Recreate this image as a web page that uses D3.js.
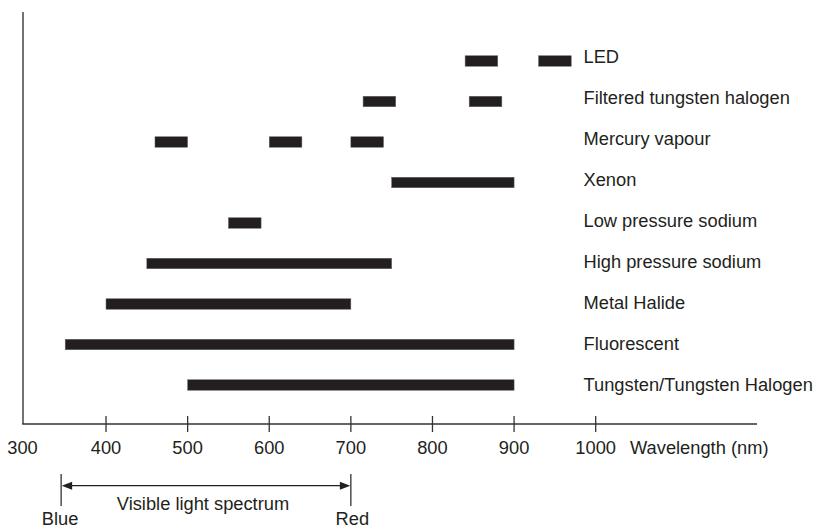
<!DOCTYPE html>
<html>
<head>
<meta charset="utf-8">
<script src="https://cdn.jsdelivr.net/npm/d3@7"></script>
<style>
  html, body { margin: 0; padding: 0; background: #fff; }
  svg { display: block; font-family: "Liberation Sans", Arial, Helvetica, sans-serif; }
  text { fill: #231f20; }
</style>
</head>
<body>
<svg id="chart" width="819" height="529"></svg>
<script>
// ---- data ----
const categories = [
  "LED",
  "Filtered tungsten halogen",
  "Mercury vapour",
  "Xenon",
  "Low pressure sodium",
  "High pressure sodium",
  "Metal Halide",
  "Fluorescent",
  "Tungsten/Tungsten Halogen"
];
const rangeStart = [
  [840, 930],
  [715, 845],
  [460, 600, 700],
  [750],
  [550],
  [450],
  [400],
  [350],
  [500]
];
const rangeEnd = [
  [880, 970],
  [755, 885],
  [500, 640, 740],
  [900],
  [590],
  [750],
  [700],
  [900],
  [900]
];
const tickValues = [400, 500, 600, 700, 800, 900, 1000];
const tickLabels = ["300", "400", "500", "600", "700", "800", "900", "1000"];
const axisTitle = "Wavelength (nm)";
const visibleBounds = [345, 700];
const visibleLabels = ["Blue", "Red"];
const visibleTitle = "Visible light spectrum";

// ---- drawing ----
const svg = d3.select("#chart");
const ink = "#231f20";
const fs = 18.3;

const x = d3.scaleLinear().domain([300, 1000]).range([24.4, 595.7]);
const y = d3.scalePoint().domain(categories).range([61, 385]);
const yLab = d3.scalePoint().domain(categories).range([63.3, 390.5]);
const axisY = 424, axisX = 23;
const barH = 10.5;

// axes lines
svg.append("line").attr("x1", axisX).attr("x2", axisX).attr("y1", 12).attr("y2", axisY)
  .attr("stroke", "#444").attr("stroke-width", 1.5);
svg.append("line").attr("x1", axisX - 0.75).attr("x2", 757).attr("y1", axisY).attr("y2", axisY)
  .attr("stroke", "#333").attr("stroke-width", 1.3);

// ticks
svg.selectAll("line.tick").data(tickValues).join("line")
  .attr("class", "tick")
  .attr("x1", d => x(d)).attr("x2", d => x(d))
  .attr("y1", axisY - 8).attr("y2", axisY + 8)
  .attr("stroke", "#333").attr("stroke-width", 1.3);

// tick labels
const labelVals = [300].concat(tickValues);
svg.selectAll("text.tl").data(labelVals).join("text")
  .attr("class", "tl")
  .attr("x", (d, i) => d === 300 ? axisX - 0.5 : x(d))
  .attr("y", 453.8)
  .attr("text-anchor", "middle")
  .attr("font-size", fs)
  .text((d, i) => tickLabels[i]);

svg.append("text").attr("x", 630).attr("y", 453.8).attr("font-size", fs).text(axisTitle);

// bars
const segs = [];
categories.forEach((c, i) => {
  rangeStart[i].forEach((s, j) => segs.push({ c, s, e: rangeEnd[i][j] }));
});
svg.selectAll("rect.bar").data(segs).join("rect")
  .attr("class", "bar")
  .attr("x", d => x(d.s))
  .attr("width", d => x(d.e) - x(d.s))
  .attr("y", d => y(d.c) - barH / 2)
  .attr("height", barH)
  .attr("fill", ink)
  .attr("stroke", "#666").attr("stroke-width", 0.5);

// category labels
svg.selectAll("text.cat").data(categories).join("text")
  .attr("class", "cat")
  .attr("x", 583.5)
  .attr("y", d => yLab(d))
  .attr("font-size", fs)
  .text(d => d);

// visible spectrum annotation
const xb = x(visibleBounds[0]), xr = x(visibleBounds[1]);
[xb, xr].forEach(v => {
  svg.append("line").attr("x1", v).attr("x2", v).attr("y1", 474).attr("y2", 506)
    .attr("stroke", ink).attr("stroke-width", 1.2);
});
const ay = 485.7;
svg.append("line").attr("x1", xb + 9).attr("x2", xr - 9).attr("y1", ay).attr("y2", ay)
  .attr("stroke", ink).attr("stroke-width", 1.2);
svg.append("path").attr("d", `M${xb + 0.6},${ay} L${xb + 11},${ay - 4} L${xb + 11},${ay + 4} Z`).attr("fill", ink);
svg.append("path").attr("d", `M${xr - 0.6},${ay} L${xr - 11},${ay - 4} L${xr - 11},${ay + 4} Z`).attr("fill", ink);

svg.append("text").attr("x", (xb + xr) / 2 - 3).attr("y", 509.5).attr("text-anchor", "middle")
  .attr("font-size", fs).text(visibleTitle);
svg.append("text").attr("x", xb - 1).attr("y", 524.5).attr("text-anchor", "middle")
  .attr("font-size", fs).text(visibleLabels[0]);
svg.append("text").attr("x", xr + 1.5).attr("y", 524.5).attr("text-anchor", "middle")
  .attr("font-size", fs).text(visibleLabels[1]);
</script>
</body>
</html>
